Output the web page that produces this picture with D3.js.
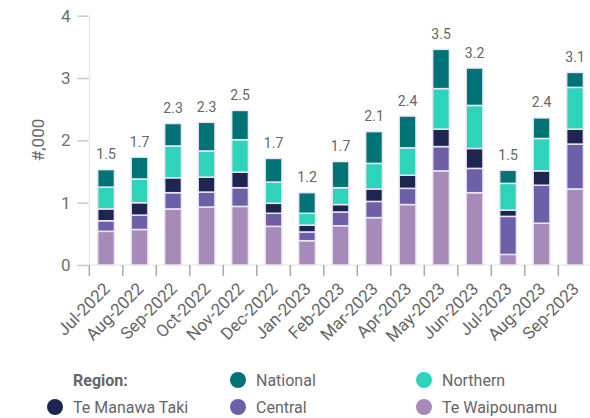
<!DOCTYPE html>
<html>
<head>
<meta charset="utf-8">
<script src="https://cdn.jsdelivr.net/npm/d3@7"></script>
<style>
  body { margin: 0; background: #fff; }
  text { font-family: Roboto, "Open Sans", sans-serif; fill: #666; }
</style>
</head>
<body>
<div id="chart-area"></div>
<script>
// months on the x axis
var months = ["Jul-2022", "Aug-2022", "Sep-2022", "Oct-2022", "Nov-2022", "Dec-2022",
    "Jan-2023", "Feb-2023", "Mar-2023", "Apr-2023", "May-2023", "Jun-2023",
    "Jul-2023", "Aug-2023", "Sep-2023"];

// values in thousands, stacked bottom to top
var teWaipounamu = [0.54, 0.57, 0.90, 0.93, 0.94, 0.62, 0.39, 0.63, 0.76, 0.97, 1.51, 1.16, 0.17, 0.67, 1.22];
var central      = [0.17, 0.23, 0.26, 0.24, 0.30, 0.21, 0.14, 0.22, 0.26, 0.26, 0.39, 0.39, 0.61, 0.61, 0.72];
var teManawaTaki = [0.19, 0.20, 0.24, 0.24, 0.25, 0.16, 0.11, 0.12, 0.20, 0.21, 0.28, 0.32, 0.10, 0.23, 0.24];
var northern     = [0.35, 0.38, 0.51, 0.42, 0.52, 0.34, 0.19, 0.27, 0.41, 0.44, 0.65, 0.69, 0.43, 0.52, 0.67];
var national     = [0.28, 0.35, 0.36, 0.46, 0.47, 0.38, 0.33, 0.42, 0.51, 0.51, 0.63, 0.60, 0.21, 0.33, 0.24];

var yTicks = [0, 1, 2, 3, 4];

var keys = ["Te Waipounamu", "Central", "Te Manawa Taki", "Northern", "National"];
var seriesValues = {
    "Te Waipounamu": teWaipounamu,
    "Central": central,
    "Te Manawa Taki": teManawaTaki,
    "Northern": northern,
    "National": national
};

var color = d3.scaleOrdinal()
    .domain(keys)
    .range(["#a68bb8", "#6e60a8", "#1d2650", "#2dd4b9", "#007377"]);

var width = 590, height = 418;

var svg = d3.select("#chart-area")
    .append("svg")
        .attr("width", width)
        .attr("height", height);

var x = d3.scaleBand()
    .domain(months)
    .range([89.3, 591.8])
    .paddingInner(0.5)
    .paddingOuter(0.25);

var y = d3.scaleLinear()
    .domain([0, 4])
    .range([265, 15.7]);

// table for the stack
var table = months.map(function(m, i) {
    var row = { month: m };
    keys.forEach(function(k) { row[k] = seriesValues[k][i]; });
    return row;
});
var stacked = d3.stack().keys(keys)(table);

// axis lines
svg.append("line")
    .attr("x1", 89.3).attr("x2", 89.3)
    .attr("y1", y(4)).attr("y2", y(0))
    .attr("stroke", "#e3e3e3");
svg.append("line")
    .attr("x1", 89.3).attr("x2", width)
    .attr("y1", y(0)).attr("y2", y(0))
    .attr("stroke", "#e3e3e3");

// Y Axis
var yAxisCall = d3.axisLeft(y)
    .tickValues(yTicks)
    .tickSize(11)
    .tickPadding(7)
    .tickFormat(function(d) { return d; });
var yAxis = svg.append("g")
    .attr("transform", "translate(88.5,0)")
    .call(yAxisCall);
yAxis.select(".domain").remove();
yAxis.selectAll("line").attr("stroke", "#c8c8c8").attr("stroke-width", 1.5);
yAxis.selectAll("text")
    .attr("font-size", "17px")
    .style("font-family", "Roboto, sans-serif")
    .style("fill", "#707070");

svg.append("text")
    .attr("transform", "translate(44,140) rotate(-90)")
    .attr("text-anchor", "middle")
    .attr("font-size", "17px")
    .text("#,000");

// X Axis: boundary ticks between bands
var gap = (x.step() - x.bandwidth()) / 2;
var bounds = months.map(function(m) { return x(m) - gap; });
bounds.push(x(months[months.length - 1]) + x.bandwidth() + gap);
svg.append("g").selectAll("line")
    .data(bounds)
    .enter().append("line")
        .attr("x1", function(d) { return d; })
        .attr("x2", function(d) { return d; })
        .attr("y1", y(0))
        .attr("y2", y(0) + 11)
        .attr("stroke", "#a8a8a8")
        .attr("stroke-width", 1.5);

svg.append("g").selectAll("text")
    .data(months)
    .enter().append("text")
        .attr("transform", function(d) {
            return "translate(" + (x(d) + x.bandwidth() / 2 + 5) + ",290) rotate(-45)";
        })
        .attr("text-anchor", "end")
        .attr("font-size", "17px")
        .text(function(d) { return d; });

// bars
svg.append("g").selectAll("g")
    .data(stacked)
    .enter().append("g")
        .attr("fill", function(d) { return color(d.key); })
    .selectAll("rect")
    .data(function(d) { return d; })
    .enter().append("rect")
        .attr("x", function(d) { return x(d.data.month); })
        .attr("y", function(d) { return y(d[1]); })
        .attr("width", x.bandwidth())
        .attr("height", function(d) { return y(d[0]) - y(d[1]); })
        .attr("stroke", "#ebe6f1")
        .attr("stroke-width", 1.5);

// totals above bars
var fmt = d3.format(".1f");
svg.append("g").selectAll("text")
    .data(table)
    .enter().append("text")
        .attr("x", function(d) { return x(d.month) + x.bandwidth() / 2; })
        .attr("y", function(d) {
            return y(d3.sum(keys, function(k) { return d[k]; })) - 10.5;
        })
        .attr("text-anchor", "middle")
        .attr("font-size", "14px")
        .text(function(d) { return fmt(d3.sum(keys, function(k) { return d[k]; })); });

// Legend
var legend = svg.append("g");
legend.append("text")
    .attr("x", 73)
    .attr("y", 380)
    .attr("dy", "0.35em")
    .attr("font-size", "16px")
    .attr("font-weight", "bold")
    .text("Region:");

var legendItems = [
    { key: "National", cx: 238, cy: 380 },
    { key: "Northern", cx: 424, cy: 380 },
    { key: "Te Manawa Taki", cx: 55, cy: 407 },
    { key: "Central", cx: 238, cy: 407 },
    { key: "Te Waipounamu", cx: 424, cy: 407 }
];
legendItems.forEach(function(item) {
    var row = legend.append("g")
        .attr("transform", "translate(" + item.cx + "," + item.cy + ")");
    row.append("circle")
        .attr("r", 8)
        .attr("fill", color(item.key));
    row.append("text")
        .attr("x", 18)
        .attr("dy", "0.35em")
        .attr("font-size", "16px")
        .text(item.key);
});
</script>
</body>
</html>
